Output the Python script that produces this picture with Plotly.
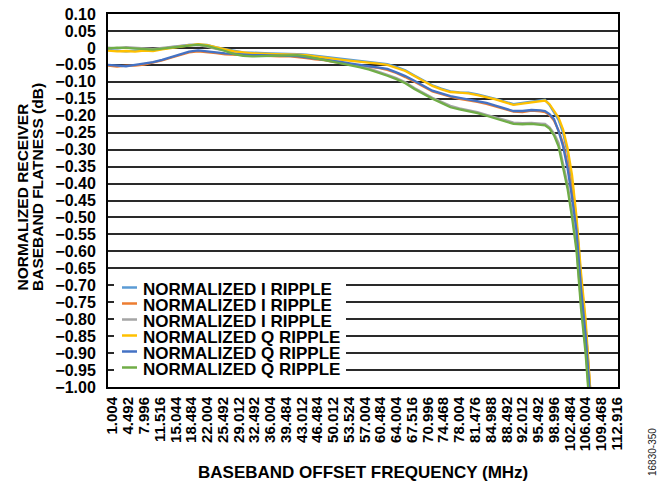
import plotly.graph_objects as go

# ---------------- data ----------------
freq_mhz = [0, 2, 4, 6, 8, 10, 12, 14, 16, 18, 20, 22, 24, 26, 28, 30, 32, 34, 36, 38,
            40, 42, 44, 46, 48, 50, 52, 54, 56, 58, 60, 62, 64, 66, 68, 70, 72, 74, 76, 78,
            80, 82, 84, 86, 88, 90, 92, 94, 96, 97, 98, 99, 100, 101, 102, 103, 104, 105,
            106, 107, 108]

i_ripple_1 = [-0.006, -0.007, -0.010, -0.008, -0.006, -0.007, -0.002, 0.002, 0.005, 0.009,
              0.010, 0.009, 0.002, -0.003, -0.008, -0.013, -0.014, -0.016, -0.016, -0.017,
              -0.017, -0.018, -0.020, -0.023, -0.028, -0.031, -0.033, -0.036, -0.039, -0.041,
              -0.045, -0.048, -0.056, -0.066, -0.081, -0.096, -0.110, -0.120, -0.128, -0.131,
              -0.132, -0.137, -0.143, -0.150, -0.158, -0.166, -0.162, -0.158, -0.153, -0.153,
              -0.168, -0.190, -0.212, -0.250, -0.308, -0.392, -0.515, -0.680, -0.815, -1.010,
              -1.160]
i_ripple_2 = [-0.052, -0.055, -0.052, -0.052, -0.049, -0.044, -0.037, -0.029, -0.020, -0.013,
              -0.010, -0.012, -0.015, -0.019, -0.020, -0.022, -0.023, -0.024, -0.024, -0.025,
              -0.024, -0.026, -0.030, -0.034, -0.036, -0.041, -0.044, -0.049, -0.052, -0.056,
              -0.059, -0.065, -0.074, -0.086, -0.099, -0.114, -0.128, -0.137, -0.144, -0.150,
              -0.154, -0.159, -0.165, -0.172, -0.181, -0.188, -0.189, -0.185, -0.187, -0.189,
              -0.198, -0.214, -0.243, -0.282, -0.342, -0.425, -0.520, -0.690, -0.825, -1.000,
              -1.170]
i_ripple_3 = [0.001, -0.001, 0.002, 0.000, -0.002, -0.003, 0.000, 0.002, 0.006, 0.009,
              0.008, 0.004, -0.003, -0.007, -0.015, -0.020, -0.022, -0.022, -0.020, -0.019,
              -0.018, -0.019, -0.022, -0.028, -0.034, -0.039, -0.043, -0.048, -0.054, -0.061,
              -0.069, -0.079, -0.089, -0.101, -0.118, -0.133, -0.147, -0.159, -0.171, -0.178,
              -0.183, -0.189, -0.197, -0.205, -0.213, -0.220, -0.222, -0.221, -0.223, -0.224,
              -0.234, -0.252, -0.280, -0.342, -0.402, -0.485, -0.585, -0.755, -0.885, -1.065,
              -1.200]
q_ripple_1 = [-0.008, -0.010, -0.009, -0.011, -0.008, -0.009, -0.004, 0.000, 0.004, 0.008,
              0.011, 0.008, 0.003, -0.004, -0.010, -0.014, -0.016, -0.017, -0.018, -0.018,
              -0.019, -0.019, -0.021, -0.025, -0.029, -0.032, -0.035, -0.038, -0.040, -0.043,
              -0.046, -0.050, -0.058, -0.068, -0.083, -0.098, -0.112, -0.122, -0.130, -0.132,
              -0.134, -0.139, -0.145, -0.152, -0.160, -0.168, -0.164, -0.160, -0.156, -0.155,
              -0.166, -0.186, -0.205, -0.240, -0.295, -0.375, -0.500, -0.665, -0.800, -1.000,
              -1.150]
q_ripple_2 = [-0.050, -0.053, -0.054, -0.050, -0.047, -0.042, -0.035, -0.027, -0.018, -0.011,
              -0.007, -0.009, -0.013, -0.016, -0.018, -0.020, -0.021, -0.021, -0.022, -0.022,
              -0.022, -0.024, -0.028, -0.031, -0.034, -0.038, -0.042, -0.046, -0.050, -0.053,
              -0.057, -0.062, -0.072, -0.083, -0.097, -0.111, -0.126, -0.134, -0.142, -0.147,
              -0.152, -0.156, -0.162, -0.170, -0.178, -0.186, -0.186, -0.183, -0.184, -0.186,
              -0.195, -0.210, -0.245, -0.290, -0.355, -0.440, -0.540, -0.710, -0.845, -1.040,
              -1.200]
q_ripple_3 = [-0.001, 0.001, 0.000, -0.002, -0.004, -0.005, -0.002, 0.001, 0.004, 0.008,
              0.010, 0.006, -0.001, -0.009, -0.018, -0.023, -0.025, -0.024, -0.022, -0.021,
              -0.020, -0.021, -0.025, -0.031, -0.037, -0.041, -0.046, -0.051, -0.057, -0.064,
              -0.072, -0.082, -0.092, -0.104, -0.121, -0.136, -0.150, -0.162, -0.175, -0.181,
              -0.186, -0.192, -0.200, -0.208, -0.216, -0.224, -0.225, -0.224, -0.227, -0.228,
              -0.238, -0.258, -0.290, -0.355, -0.415, -0.500, -0.600, -0.770, -0.900, -1.080,
              -1.200]

series_names = ["NORMALIZED I RIPPLE", "NORMALIZED I RIPPLE", "NORMALIZED I RIPPLE",
                "NORMALIZED Q RIPPLE", "NORMALIZED Q RIPPLE", "NORMALIZED Q RIPPLE"]
series_values = [i_ripple_1, i_ripple_2, i_ripple_3, q_ripple_1, q_ripple_2, q_ripple_3]
series_colors = ["#5B9BD5", "#ED7D31", "#A5A5A5", "#FFC000", "#4472C4", "#70AD47"]

x_tick_labels = ["1.004", "4.492", "7.996", "11.516", "15.044", "18.484", "22.004", "25.492",
                 "29.012", "32.492", "36.004", "39.484", "43.012", "46.484", "50.012", "53.524",
                 "57.004", "60.484", "64.004", "67.516", "70.996", "74.468", "78.004", "81.476",
                 "84.988", "88.492", "92.012", "95.492", "98.996", "102.484", "106.004",
                 "109.468", "112.916"]
y_tick_values = [0.10, 0.05, 0, -0.05, -0.10, -0.15, -0.20, -0.25, -0.30, -0.35, -0.40,
                 -0.45, -0.50, -0.55, -0.60, -0.65, -0.70, -0.75, -0.80, -0.85, -0.90,
                 -0.95, -1.00]
y_tick_labels = ["0.10", "0.05", "0", "\u22120.05", "\u22120.10", "\u22120.15", "\u22120.20",
                 "\u22120.25", "\u22120.30", "\u22120.35", "\u22120.40", "\u22120.45",
                 "\u22120.50", "\u22120.55", "\u22120.60", "\u22120.65", "\u22120.70",
                 "\u22120.75", "\u22120.80", "\u22120.85", "\u22120.90", "\u22120.95",
                 "\u22121.00"]
y_title_lines = ["NORMALIZED RECEIVER", "BASEBAND FLATNESS (dB)"]
x_title = "BASEBAND OFFSET FREQUENCY (MHz)"
figure_id = "16830-350"

# ---------------- figure ----------------
FONT = "Arial, 'Liberation Sans', Helvetica, sans-serif"
PAGE_OFF = 8                      # default page margin around the plot div
W, H = 670 - PAGE_OFF, 482 - PAGE_OFF
ML, MR, MT, MB = 100, 52, 6, 95
PW, PH = W - ML - MR, H - MT - MB


def px_x(px):
    """page pixel x -> paper fraction"""
    return (px - PAGE_OFF - ML) / PW


def px_y(py):
    """page pixel y -> paper fraction"""
    return (H - MB - (py - PAGE_OFF)) / PH


fig = go.Figure()
for name, vals, col in zip(series_names, series_values, series_colors):
    fig.add_trace(go.Scatter(x=freq_mhz, y=vals, mode="lines", name=name,
                             line=dict(color=col, width=2.3), showlegend=False))

# compact Excel-style legend inside the plot
shapes = [dict(type="rect", xref="paper", yref="paper", x0=px_x(114), x1=px_x(346),
               y0=px_y(379), y1=px_y(277), fillcolor="white", line=dict(width=0),
               layer="above")]
annotations = []
for i, (name, col) in enumerate(zip(series_names, series_colors)):
    ly = 287.5 + 16.0 * i
    shapes.append(dict(type="line", xref="paper", yref="paper", x0=px_x(122), x1=px_x(137),
                       y0=px_y(ly), y1=px_y(ly), line=dict(color=col, width=2.5),
                       layer="above"))
    annotations.append(dict(xref="paper", yref="paper", x=px_x(141), y=px_y(ly + 1.5),
                            xanchor="left", yanchor="middle", showarrow=False, text=name,
                            font=dict(family=FONT, size=17, color="black", weight="bold")))

# axis titles
for line_text, cx in zip(y_title_lines, [22, 37]):
    annotations.append(dict(xref="paper", yref="paper", x=px_x(cx), y=px_y(293),
                            xanchor="center", yanchor="bottom", showarrow=False,
                            text=line_text, textangle=-90,
                            font=dict(family=FONT, size=15.5, color="black", weight="bold")))
annotations.append(dict(xref="paper", yref="paper", x=px_x(363), y=px_y(472),
                        xanchor="center", yanchor="middle", showarrow=False, text=x_title,
                        font=dict(family=FONT, size=17, color="black", weight="bold")))
annotations.append(dict(xref="paper", yref="paper", x=px_x(653), y=px_y(452),
                        xanchor="center", yanchor="middle", showarrow=False,
                        text=figure_id, textangle=-90,
                        font=dict(family=FONT, size=10, color="#222")))

fig.update_layout(
    width=W, height=H,
    margin=dict(l=ML, r=MR, t=MT, b=MB, pad=0),
    paper_bgcolor="white", plot_bgcolor="white",
    showlegend=False,
    shapes=shapes, annotations=annotations,
    font=dict(family=FONT, color="black"),
)
fig.update_xaxes(
    automargin=False,
    range=[0, 113.2], tickmode="array",
    tickvals=[float(t) for t in x_tick_labels], ticktext=x_tick_labels,
    tickangle=-90, ticks="", ticklabelstandoff=2, showgrid=False, zeroline=False,
    tickfont=dict(family=FONT, size=15, color="black", weight="bold"),
    showline=True, linecolor="black", linewidth=2, mirror=True,
)
fig.update_yaxes(
    automargin=False, ticklabeloverflow="allow",
    range=[-1.0, 0.1001], tickmode="array", tickvals=y_tick_values, ticktext=y_tick_labels,
    ticks="", ticklabelstandoff=7, showgrid=True, gridcolor="#2a2a2a", gridwidth=1.5,
    zeroline=False,
    tickfont=dict(family=FONT, size=16, color="black", weight="bold"),
    showline=True, linecolor="black", linewidth=2, mirror=True,
)

fig.write_html("out.html")
